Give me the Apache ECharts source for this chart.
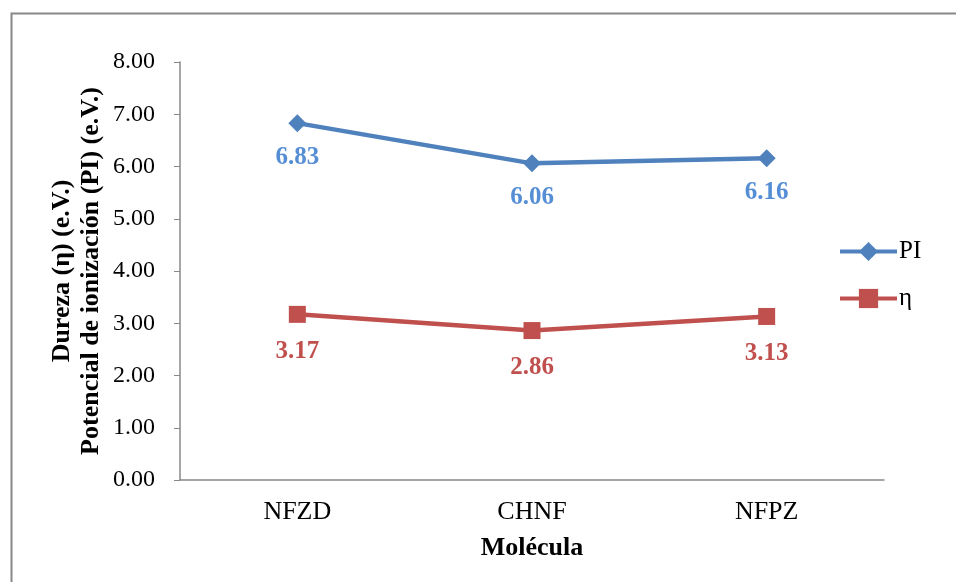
<!DOCTYPE html>
<html>
<head>
<meta charset="utf-8">
<script src="https://cdn.jsdelivr.net/npm/echarts@6/dist/echarts.min.js"></script>
<style>html,body{margin:0;padding:0;background:#fff;}#c{width:956px;height:582px;}</style>
</head>
<body>
<div id="c"></div>
<script>
const categories = ['NFZD', 'CHNF', 'NFPZ'];
const piValues = [6.83, 6.06, 6.16];
const etaValues = [3.17, 2.86, 3.13];
const seriesNames = ['PI', 'η'];
const yTicks = { min: 0, max: 8, interval: 1 };

const font = '"Liberation Serif", "Times New Roman", serif';
const chart = echarts.init(document.getElementById('c'));
chart.setOption({
  animation: false,
  backgroundColor: '#fff',
  textStyle: { fontFamily: font },
  graphic: [{
    type: 'rect', left: 9, top: 11,
    shape: { width: 980, height: 600 },
    style: { fill: 'none', stroke: '#888', lineWidth: 2 }
  }],
  grid: { left: 180, right: 72, top: 62, bottom: 102 },
  legend: {
    orient: 'vertical', left: 833, top: 234, itemGap: 22,
    itemWidth: 57, itemHeight: 24,
    lineStyle: { width: 4 },
    textStyle: { fontFamily: font, fontSize: 25, color: '#000', padding: [0, 0, 0, -3] },
    data: seriesNames
  },
  xAxis: {
    type: 'category', data: categories,
    axisLine: { lineStyle: { color: '#888', width: 1.5 } },
    axisTick: { show: false },
    axisLabel: { fontFamily: font, fontSize: 26, color: '#000', margin: 19 },
    name: 'Molécula', nameLocation: 'middle', nameGap: 55, nameMoveOverlap: false,
    nameTextStyle: { fontFamily: font, fontSize: 26, fontWeight: 'bold', color: '#000' }
  },
  yAxis: {
    type: 'value', min: yTicks.min, max: yTicks.max, interval: yTicks.interval,
    splitLine: { show: false },
    axisLine: { show: true, lineStyle: { color: '#888', width: 1.5 } },
    axisTick: { show: true, length: 6, lineStyle: { color: '#888' } },
    axisLabel: { fontFamily: font, fontSize: 24, color: '#000', margin: 25,
      formatter: v => v.toFixed(2) },
    name: 'Dureza (η) (e.V.)\nPotencial de ionización (PI) (e.V.)',
    nameLocation: 'middle', nameRotate: 90, nameGap: 74, nameMoveOverlap: false,
    nameTextStyle: { fontFamily: font, fontSize: 26, fontWeight: 'bold', color: '#000', lineHeight: 29 }
  },
  series: [
    {
      name: seriesNames[0], type: 'line', data: piValues,
      symbol: 'diamond', symbolSize: 18,
      lineStyle: { color: '#4F81BD', width: 4.5 },
      itemStyle: { color: '#4F81BD' },
      label: { show: true, position: 'bottom', distance: 13, fontFamily: font,
        fontSize: 25, fontWeight: 'bold', color: '#558ED5',
        formatter: p => p.value.toFixed(2) }
    },
    {
      name: seriesNames[1], type: 'line', data: etaValues,
      symbol: 'rect', symbolSize: 17,
      lineStyle: { color: '#C0504D', width: 4.5 },
      itemStyle: { color: '#C0504D' },
      label: { show: true, position: 'bottom', distance: 16, fontFamily: font,
        fontSize: 25, fontWeight: 'bold', color: '#C0504D',
        formatter: p => p.value.toFixed(2) }
    }
  ]
});
</script>
</body>
</html>
